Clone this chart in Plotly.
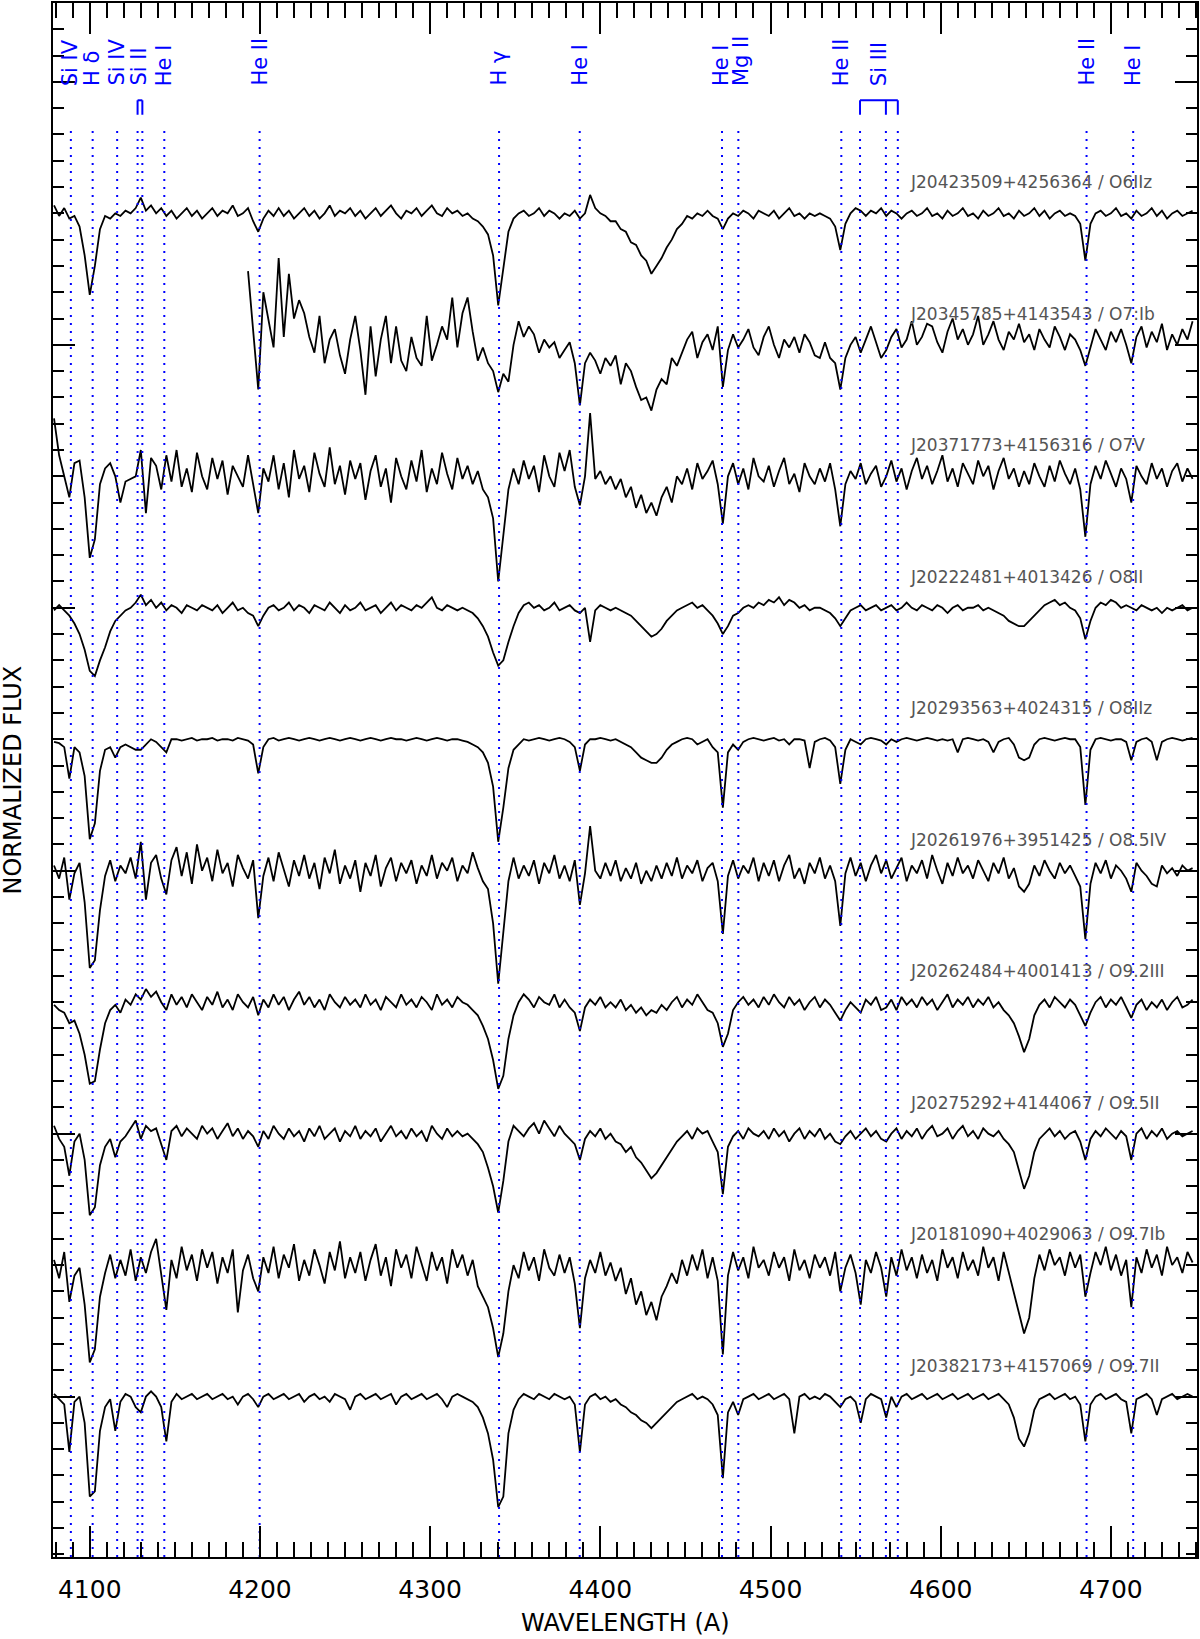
import plotly.graph_objects as go

# ---------------- data ----------------
wavelength = list(range(4079, 4749, 3))  # sampling grid (A), 224 points

star_ids = ["J20423509+4256364", "J20345785+4143543", "J20371773+4156316",
            "J20222481+4013426", "J20293563+4024315", "J20261976+3951425",
            "J20262484+4001413", "J20275292+4144067", "J20181090+4029063",
            "J20382173+4157069"]
sp_types = ["O6IIz", "O7:Ib", "O7V", "O8II", "O8IIz", "O8.5IV",
            "O9.2III", "O9.5II", "O9.7Ib", "O9.7II"]
shifts = [4.5, 4.0, 3.5, 3.0, 2.5, 2.0, 1.5, 1.0, 0.5, 0.0]  # vertical shift added to flux

flux_1 = [1.03, 0.99, 1.02, 0.98, 0.99, 0.95, 0.84, 0.69, 0.80, 0.94,
          0.99, 0.98, 1.00, 0.99, 1.01, 1.00, 1.02, 1.06, 1.01, 1.03,
          1.00, 1.02, 0.99, 1.01, 0.98, 1.00, 1.02, 0.99, 1.01, 0.98,
          1.00, 1.02, 0.99, 1.01, 1.00, 1.03, 0.99, 1.00, 1.02, 0.97,
          0.93, 0.98, 1.01, 0.99, 1.02, 0.99, 1.01, 0.98, 1.00, 1.02,
          0.99, 1.01, 0.98, 1.00, 1.03, 0.99, 1.01, 1.00, 1.02, 0.99,
          1.01, 0.98, 1.00, 1.02, 0.99, 1.01, 1.03, 1.00, 0.98, 1.01,
          1.00, 1.02, 0.99, 1.01, 1.03, 1.00, 0.99, 1.02, 1.00, 1.01,
          0.99, 1.00, 0.98, 0.97, 0.95, 0.92, 0.84, 0.65, 0.80, 0.93,
          0.98, 1.00, 1.01, 0.99, 1.00, 1.02, 0.99, 1.01, 1.00, 0.98,
          1.00, 0.99, 1.01, 0.98, 1.00, 1.07, 1.02, 1.00, 0.99, 0.97,
          0.97, 0.94, 0.93, 0.89, 0.88, 0.84, 0.82, 0.77, 0.80, 0.83,
          0.87, 0.90, 0.94, 0.96, 0.99, 0.98, 1.00, 0.99, 1.01, 0.99,
          0.98, 0.94, 0.98, 1.00, 0.99, 1.01, 1.00, 0.98, 1.01, 1.00,
          0.99, 1.01, 0.98, 1.00, 1.02, 0.99, 1.00, 0.98, 1.00, 0.99,
          1.00, 0.99, 0.98, 0.95, 0.86, 0.96, 1.00, 1.02, 1.01, 0.99,
          1.01, 1.00, 1.02, 0.99, 1.01, 1.00, 0.98, 1.00, 1.01, 0.99,
          1.00, 1.02, 0.99, 1.00, 0.98, 1.01, 0.99, 1.00, 1.02, 0.99,
          1.00, 0.98, 1.01, 0.99, 1.00, 1.02, 0.99, 1.00, 0.98, 1.01,
          0.99, 1.00, 1.02, 0.99, 1.01, 0.98, 1.00, 1.01, 0.99, 1.00,
          0.99, 0.96, 0.82, 0.96, 1.00, 1.01, 0.99, 1.00, 1.02, 0.99,
          1.00, 0.98, 1.01, 0.99, 1.00, 1.02, 0.99, 1.01, 0.98, 1.00,
          1.01, 0.99, 1.00, 1.01]

flux_2 = [None, None, None, None, None, None, None, None, None, None,
          None, None, None, None, None, None, None, None, None, None,
          None, None, None, None, None, None, None, None, None, None,
          None, None, None, None, None, None, None, None, 1.28, 1.06,
          0.83, 1.20, 1.10, 0.99, 1.33, 1.03, 1.27, 1.10, 1.17, 1.12,
          1.03, 0.97, 1.11, 0.93, 1.02, 1.06, 0.96, 0.89, 1.02, 1.11,
          0.98, 0.81, 1.07, 0.88, 1.02, 1.11, 0.93, 1.07, 0.94, 0.90,
          1.03, 0.95, 0.92, 1.11, 0.94, 1.00, 1.07, 1.02, 1.18, 0.99,
          1.12, 1.18, 1.05, 0.94, 0.99, 0.93, 0.90, 0.82, 0.89, 0.86,
          1.00, 1.09, 1.03, 1.07, 1.04, 0.97, 1.02, 0.99, 1.01, 0.95,
          0.98, 1.01, 0.93, 0.77, 0.93, 0.97, 0.94, 0.89, 0.95, 0.92,
          0.96, 0.85, 0.93, 0.90, 0.84, 0.79, 0.80, 0.75, 0.83, 0.87,
          0.85, 0.95, 0.92, 0.97, 1.02, 1.05, 0.95, 1.01, 1.04, 0.98,
          1.07, 0.84, 0.98, 1.04, 0.99, 1.02, 1.06, 0.99, 0.96, 1.03,
          1.07, 1.00, 0.95, 1.02, 0.99, 1.03, 0.97, 1.04, 1.01, 0.96,
          0.95, 1.01, 0.95, 0.93, 0.83, 0.95, 1.00, 1.03, 0.97, 1.02,
          1.07, 1.01, 0.95, 0.98, 1.03, 1.06, 0.99, 1.02, 1.09, 1.00,
          1.03, 1.08, 1.07, 1.01, 0.97, 1.05, 1.10, 1.02, 1.06, 1.00,
          1.04, 1.11, 1.00, 1.04, 1.09, 1.02, 0.98, 1.05, 1.02, 1.08,
          1.01, 1.04, 0.98, 1.06, 1.02, 0.99, 1.07, 1.03, 0.98, 1.04,
          1.02, 0.98, 0.92, 0.99, 1.06, 1.02, 0.98, 1.05, 1.01, 1.06,
          1.00, 0.93, 1.03, 1.07, 0.99, 1.05, 1.01, 1.08, 0.98, 1.04,
          1.00, 1.06, 1.02, 1.09]

flux_3 = [1.22, 1.08, 1.00, 0.92, 1.05, 1.06, 0.92, 0.69, 0.76, 0.97,
          1.03, 1.05, 1.00, 0.90, 0.98, 0.99, 1.00, 1.10, 0.86, 1.07,
          1.04, 0.95, 1.08, 0.98, 1.10, 0.96, 1.03, 0.94, 1.09, 1.00,
          0.95, 1.07, 0.99, 1.06, 0.93, 1.04, 1.00, 0.96, 1.08, 0.97,
          0.86, 1.03, 0.98, 1.08, 0.95, 1.05, 0.92, 1.10, 0.99, 1.04,
          0.94, 1.09, 1.01, 0.96, 1.11, 0.97, 1.04, 0.93, 1.06, 0.99,
          1.05, 0.91, 1.02, 1.08, 0.96, 1.03, 0.90, 1.07, 1.00, 0.95,
          1.06, 0.98, 1.10, 0.94, 1.03, 0.97, 1.09, 1.01, 0.95, 1.07,
          0.99, 1.04, 0.97, 1.02, 0.95, 0.92, 0.84, 0.60, 0.78, 0.95,
          1.03, 0.97, 1.06, 0.99, 1.04, 0.94, 1.08, 1.00, 0.96, 1.09,
          1.02, 1.10, 0.96, 0.89, 1.00, 1.24, 0.99, 1.02, 0.97, 1.00,
          0.95, 0.99, 0.92, 0.96, 0.88, 0.93, 0.86, 0.90, 0.85, 0.92,
          0.96, 0.90, 1.00, 0.97, 1.03, 0.95, 1.05, 0.99, 1.02, 1.06,
          0.97, 0.82, 1.00, 1.05, 0.97, 1.03, 0.95, 1.07, 1.00, 0.98,
          1.04, 0.96, 1.02, 1.07, 0.97, 1.01, 0.94, 1.05, 1.00, 0.97,
          1.03, 0.98, 1.05, 0.95, 0.81, 0.97, 1.02, 0.99, 1.05, 0.97,
          1.01, 1.04, 0.96, 1.00, 1.06, 0.98, 1.03, 0.95, 1.02, 1.07,
          0.99, 1.04, 0.97, 1.02, 1.08, 0.98, 1.03, 0.96, 1.05, 1.01,
          0.97, 1.06, 1.00, 1.04, 0.95, 1.02, 1.07, 0.99, 1.03, 0.96,
          1.02, 0.97, 1.05, 1.00, 0.96, 1.04, 0.98, 1.06, 1.01, 0.97,
          1.03, 0.95, 0.77, 0.97, 1.04, 0.99, 1.06, 1.01, 0.96, 1.03,
          0.99, 0.90, 1.04, 1.00, 0.97, 1.05, 0.99, 1.03, 0.96, 1.02,
          1.05, 0.98, 1.03, 0.99]

flux_4 = [0.99, 1.01, 0.99, 0.97, 0.94, 0.90, 0.84, 0.76, 0.74, 0.80,
          0.85, 0.91, 0.95, 0.97, 0.99, 1.00, 1.02, 1.05, 1.01, 1.03,
          1.00, 1.02, 0.99, 1.01, 1.00, 0.98, 1.01, 1.00, 0.99, 1.01,
          1.00, 0.99, 1.01, 0.98, 1.00, 1.02, 0.99, 1.00, 0.98, 0.97,
          0.93, 0.97, 1.00, 1.01, 0.99, 1.00, 1.02, 0.99, 1.01, 1.00,
          0.98, 1.01, 1.00, 0.99, 1.02, 1.00, 0.98, 1.01, 0.99, 1.00,
          1.02, 0.99, 1.00, 1.01, 0.98, 1.00, 1.02, 0.99, 1.01, 1.00,
          0.99, 1.01, 1.00, 1.02, 1.04, 1.00, 0.99, 1.01, 1.00, 0.99,
          1.00, 0.99, 0.98, 0.96, 0.93, 0.89, 0.83, 0.78, 0.80, 0.87,
          0.93, 0.98, 1.01, 1.02, 1.00, 1.01, 0.99, 1.00, 1.02, 0.99,
          1.00, 1.01, 0.99, 0.98, 1.00, 0.87, 0.99, 1.01, 1.00, 0.99,
          1.00, 0.99, 0.98, 0.97, 0.95, 0.93, 0.91, 0.89, 0.90, 0.92,
          0.95, 0.97, 0.99, 1.00, 1.01, 1.02, 1.00, 1.01, 0.99, 0.97,
          0.94, 0.90, 0.93, 0.97, 0.98, 1.00, 1.01, 1.00, 1.02, 1.01,
          1.03, 1.02, 1.04, 1.01, 1.03, 1.02, 1.00, 1.01, 0.99, 1.00,
          1.00, 0.99, 0.98, 0.96, 0.93, 0.96, 0.99, 1.00, 1.01, 0.99,
          1.00, 1.01, 0.99, 1.00, 1.01, 0.99, 1.00, 1.02, 1.00, 0.99,
          1.01, 1.00, 0.99, 1.01, 1.00, 0.98, 1.00, 1.01, 0.99, 1.00,
          1.00, 1.01, 0.99, 1.00, 0.99, 0.98, 0.97, 0.95, 0.94, 0.93,
          0.93, 0.95, 0.97, 0.99, 1.01, 1.02, 1.03, 1.01, 1.02, 1.00,
          0.99, 0.96, 0.88, 0.95, 1.00, 1.02, 1.01, 1.03, 1.02, 1.00,
          1.01, 1.00, 0.99, 1.01, 1.00, 0.99, 1.00, 0.98, 1.00, 0.99,
          1.00, 1.01, 0.99, 1.00]

flux_5 = [0.99, 0.985, 0.97, 0.85, 0.97, 0.95, 0.86, 0.62, 0.68, 0.88,
          0.96, 0.97, 0.93, 0.97, 0.98, 0.97, 0.96, 0.96, 0.98, 1.00,
          0.99, 0.97, 0.95, 1.00, 1.00, 0.995, 1.00, 1.005, 0.995, 1.00,
          1.00, 1.005, 0.995, 1.00, 1.00, 0.995, 1.005, 1.00, 0.995, 0.98,
          0.87, 0.97, 1.00, 1.005, 0.995, 1.00, 1.005, 1.00, 0.995, 1.00,
          1.005, 1.00, 0.995, 1.00, 1.005, 1.00, 0.995, 1.00, 1.005, 1.00,
          0.995, 1.00, 1.005, 1.00, 0.995, 1.00, 1.005, 1.00, 1.00, 0.995,
          1.00, 1.005, 1.00, 0.995, 1.00, 1.005, 1.00, 0.995, 1.00, 1.00,
          0.995, 0.99, 0.98, 0.97, 0.95, 0.91, 0.82, 0.61, 0.74, 0.89,
          0.96, 0.98, 1.00, 0.995, 1.00, 1.005, 1.00, 0.995, 1.00, 1.005,
          1.00, 0.99, 0.97, 0.88, 0.98, 1.00, 1.00, 1.005, 1.00, 0.995,
          1.00, 0.99, 0.98, 0.97, 0.95, 0.93, 0.92, 0.91, 0.91, 0.93,
          0.96, 0.98, 0.99, 1.00, 1.005, 1.00, 0.98, 0.99, 1.00, 0.97,
          0.95, 0.74, 0.95, 0.98, 0.96, 0.99, 1.00, 1.005, 1.00, 0.995,
          1.00, 1.005, 0.995, 1.00, 0.98, 1.00, 1.00, 0.995, 0.89, 0.99,
          1.00, 1.005, 0.995, 0.97, 0.83, 0.96, 1.00, 0.99, 0.98, 1.00,
          1.005, 1.00, 0.995, 0.98, 1.00, 0.99, 1.00, 1.005, 1.00, 0.995,
          1.00, 1.005, 1.00, 0.995, 1.00, 0.995, 1.00, 0.95, 1.00, 1.005,
          1.00, 0.995, 1.00, 0.99, 0.95, 0.99, 1.00, 1.005, 0.98, 0.93,
          0.92, 0.93, 0.98, 1.00, 1.005, 1.00, 0.995, 1.00, 1.005, 1.00,
          1.00, 0.97, 0.75, 0.96, 1.00, 1.005, 1.00, 0.995, 1.00, 1.00,
          0.99, 0.92, 0.99, 1.00, 1.005, 0.99, 0.92, 0.99, 1.00, 1.005,
          1.00, 0.995, 1.00, 1.005]

flux_6 = [1.02, 0.97, 1.05, 0.89, 0.99, 1.03, 0.88, 0.63, 0.66, 0.85,
          0.98, 1.04, 0.96, 1.02, 0.99, 1.05, 0.97, 1.11, 0.89, 1.03,
          1.06, 0.97, 0.91, 1.04, 1.09, 0.98, 1.07, 0.95, 1.10, 1.00,
          1.05, 0.96, 1.08, 0.99, 1.03, 0.94, 1.06, 1.01, 0.97, 1.04,
          0.82, 0.98, 1.05, 0.96, 1.07, 1.00, 0.94, 1.04, 0.98, 1.06,
          0.97, 1.03, 0.93, 1.05, 0.99, 1.08, 0.95, 1.02, 0.97, 1.04,
          0.92, 1.03, 0.98, 1.06, 0.94, 1.01, 1.05, 0.96, 1.03, 0.99,
          1.04, 0.95, 1.02, 0.98, 1.06, 0.97, 1.03, 1.00, 1.05, 0.96,
          1.02, 0.99, 1.07, 1.01, 0.96, 0.93, 0.80, 0.57, 0.76, 0.96,
          1.05, 0.97, 1.02, 0.98, 1.04, 0.95, 1.03, 0.99, 1.06, 0.97,
          1.02, 0.96, 1.04, 0.87, 0.99, 1.17, 1.00, 0.97, 1.03, 0.98,
          1.04, 0.96, 1.01, 0.97, 1.03, 0.95, 1.00, 0.96, 1.02, 0.97,
          1.03, 0.98, 1.05, 0.97, 1.02, 0.99, 1.04, 0.96, 1.01, 1.03,
          0.96, 0.76, 0.98, 1.04, 0.97, 1.02, 0.99, 1.05, 0.96, 1.03,
          0.98, 1.04, 0.96, 1.02, 1.06, 0.97, 1.01, 0.95, 1.03, 0.99,
          1.05, 0.97, 1.02, 0.96, 0.79, 0.99, 1.05, 0.98, 1.03, 0.96,
          1.02, 1.06, 0.99, 1.04, 0.97, 1.01, 1.05, 0.96, 1.02, 0.99,
          1.04, 0.97, 1.06, 1.00, 0.95, 1.03, 0.98, 1.05, 0.99, 1.02,
          0.97, 1.04, 1.00, 0.96, 1.03, 0.99, 1.05, 0.97, 1.01, 0.94,
          0.92, 0.95, 1.02, 0.98, 1.04, 1.00, 0.97, 1.03, 0.99, 1.02,
          0.98, 0.94, 0.74, 0.95, 1.03, 0.99, 1.04, 0.97, 1.02, 1.00,
          0.97, 0.92, 1.03, 1.00, 0.98, 0.95, 0.94, 1.02, 0.99, 1.01,
          0.98, 1.02, 1.00, 1.01]

flux_7 = [0.99, 0.97, 0.96, 0.92, 0.93, 0.88, 0.80, 0.69, 0.70, 0.82,
          0.92, 0.97, 0.99, 0.96, 1.01, 0.99, 1.03, 1.01, 1.05, 1.02,
          1.04, 1.00, 0.97, 1.03, 0.99, 1.02, 0.98, 1.03, 1.00, 0.97,
          1.02, 0.99, 1.04, 0.98, 1.01, 0.97, 1.03, 1.00, 0.98, 1.02,
          0.95, 1.01, 0.98, 1.03, 0.99, 1.02, 0.97, 1.01, 1.04, 0.99,
          1.02, 0.98, 1.01, 0.97, 1.03, 1.00, 0.98, 1.02, 0.99, 1.01,
          0.98, 1.03, 0.99, 1.01, 0.97, 1.02, 1.00, 0.98, 1.03, 0.99,
          1.01, 0.98, 1.02, 1.00, 0.97, 1.03, 0.99, 1.01, 0.98, 1.02,
          1.00, 0.99, 0.97, 0.95, 0.91, 0.86, 0.78, 0.67, 0.72, 0.86,
          0.95, 1.00, 1.03, 1.01, 0.98, 1.02, 1.00, 0.99, 1.03, 0.98,
          1.01, 0.98, 0.96, 0.89, 0.98, 1.01, 0.99, 1.02, 0.98, 1.00,
          0.98, 1.01, 0.97, 0.99, 0.96, 0.98, 0.95, 0.97, 0.96, 0.99,
          0.97, 1.00, 1.02, 0.98, 1.01, 0.99, 1.03, 1.00, 0.97, 0.96,
          0.92, 0.83, 0.88, 0.97, 1.00, 1.02, 0.99, 1.01, 0.98, 1.02,
          0.99, 1.03, 1.00, 0.98, 1.02, 0.99, 1.01, 0.97, 1.00, 1.02,
          0.98, 1.01, 0.99, 0.96, 0.93, 0.97, 1.00, 0.98, 0.96, 1.01,
          0.99, 1.02, 0.97, 0.98, 1.01, 0.97, 1.02, 0.99, 1.01, 0.98,
          1.02, 0.99, 1.01, 0.97, 1.00, 1.03, 0.98, 1.01, 0.99, 1.02,
          0.98, 1.01, 0.99, 1.02, 0.98, 1.00, 0.97, 0.95, 0.92, 0.87,
          0.81, 0.86, 0.95, 0.99, 1.01, 0.98, 1.02, 1.00, 0.98, 1.01,
          0.99, 0.95, 0.91, 0.96, 1.00, 1.02, 0.98, 1.01, 0.99, 1.02,
          0.98, 0.94, 0.99, 1.01, 0.97, 1.00, 0.98, 1.01, 0.97, 1.00,
          1.02, 0.98, 0.99, 1.01]

flux_8 = [1.03, 0.98, 0.95, 0.84, 0.97, 1.00, 0.90, 0.69, 0.72, 0.88,
          0.95, 0.98, 0.91, 0.97, 0.99, 1.02, 1.05, 0.98, 1.03, 1.01,
          1.02, 0.96, 0.90, 1.01, 1.03, 0.99, 1.02, 1.00, 0.98, 1.03,
          1.00, 1.02, 0.98, 1.01, 1.04, 0.99, 1.02, 0.98, 1.01, 0.99,
          0.95, 1.01, 0.98, 1.03, 1.00, 0.98, 1.02, 0.99, 1.01, 0.97,
          1.02, 0.99, 1.03, 0.98, 1.00, 1.02, 0.97, 1.01, 0.99, 1.03,
          0.98, 1.01, 0.99, 1.02, 0.97, 1.00, 1.03, 0.99, 1.01, 0.98,
          1.02, 0.99, 1.01, 0.97, 1.03, 1.00, 0.98, 1.02, 0.99, 1.01,
          0.99, 1.00, 0.98, 0.96, 0.93, 0.87, 0.80, 0.70, 0.82, 0.97,
          1.03, 1.01, 0.99, 1.02, 1.04, 1.00, 1.05, 1.02, 0.99, 1.03,
          1.00, 0.98, 0.96, 0.90, 0.98, 1.01, 0.99, 1.02, 0.98, 1.00,
          0.97, 0.96, 0.93, 0.95, 0.91, 0.89, 0.86, 0.83, 0.85, 0.88,
          0.91, 0.94, 0.97, 0.99, 1.01, 0.98, 1.02, 1.00, 1.01, 0.97,
          0.93, 0.77, 0.95, 0.99, 1.01, 0.98, 1.02, 1.00, 0.99, 1.01,
          0.98, 1.02, 0.99, 1.01, 0.97, 1.00, 1.02, 0.98, 1.01, 0.99,
          1.02, 0.98, 1.00, 0.97, 0.96, 0.99, 1.01, 0.98, 1.00, 1.02,
          0.99, 1.01, 0.98, 0.97, 1.00, 1.02, 0.98, 1.01, 0.99, 1.02,
          0.98, 1.01, 1.03, 0.99, 1.00, 1.02, 0.98, 1.01, 1.03, 0.99,
          1.01, 0.98, 1.02, 1.00, 0.99, 1.01, 0.98, 0.96, 0.93, 0.86,
          0.79, 0.84, 0.93, 0.98, 1.00, 1.02, 0.99, 1.01, 0.98, 1.00,
          1.01, 0.97, 0.90, 0.98, 1.01, 0.99, 1.02, 1.00, 0.98, 1.01,
          0.99, 0.90, 1.00, 1.02, 0.98, 1.01, 0.99, 1.02, 0.98, 1.00,
          1.01, 0.99, 1.00, 1.01]

flux_9 = [1.02, 0.95, 1.05, 0.86, 0.96, 0.99, 0.85, 0.63, 0.68, 0.88,
          0.97, 1.04, 0.95, 1.02, 0.96, 1.06, 0.94, 1.03, 0.97, 1.05,
          1.10, 0.96, 0.83, 1.02, 0.95, 1.07, 0.98, 1.04, 0.94, 1.06,
          0.99, 1.05, 0.93, 1.03, 0.97, 1.06, 0.82, 0.98, 1.04, 0.95,
          0.90, 1.03, 0.97, 1.07, 0.95, 1.04, 0.99, 1.08, 0.94, 1.02,
          0.96, 1.06, 1.00, 0.93, 1.05, 0.98, 1.09, 0.95, 1.03, 0.97,
          1.05, 0.94, 1.02, 1.08, 0.96, 1.03, 0.92, 1.06, 0.99, 1.04,
          0.95, 1.07, 1.00, 0.94, 1.05, 0.98, 1.03, 0.93, 1.06, 0.99,
          1.04, 0.96, 1.02, 0.92, 0.88, 0.84, 0.76, 0.65, 0.74, 0.90,
          1.00, 0.95, 1.05, 0.98, 1.03, 0.94, 1.06, 0.99, 0.96, 1.04,
          0.97, 1.03, 0.93, 0.76, 0.95, 1.02, 0.97, 1.05, 0.96, 1.01,
          0.94, 0.99, 0.89, 0.95, 0.85, 0.90, 0.81, 0.86, 0.79, 0.88,
          0.92, 0.97, 0.93, 1.02, 0.96, 1.04, 0.98, 1.06, 0.95, 1.03,
          0.94, 0.66, 0.96, 1.05, 0.98, 1.03, 0.95, 1.07, 0.99, 1.02,
          0.96, 1.05, 0.99, 1.03, 0.94, 1.06, 0.98, 1.02, 0.95, 1.04,
          0.99, 1.03, 0.96, 1.05, 0.90, 0.99, 1.04, 0.97, 0.85, 1.02,
          0.97, 1.05, 0.99, 0.88, 1.03, 0.96, 1.06, 0.98, 1.03, 0.95,
          1.04, 0.97, 1.02, 0.94, 1.06, 0.99, 1.03, 0.95, 1.05, 0.98,
          1.02, 0.96, 1.07, 0.99, 1.03, 0.94, 1.05, 0.97, 0.90, 0.82,
          0.74, 0.80, 0.95, 1.04, 0.98, 1.06, 1.00, 1.03, 0.96, 1.05,
          0.99, 1.04, 0.88, 0.97, 1.05, 1.00, 1.07, 0.98, 1.04, 0.96,
          1.02, 0.84, 1.03, 0.97, 1.06, 0.99, 1.04, 0.96, 1.07, 1.00,
          1.03, 0.97, 1.05, 1.01]

flux_10 = [1.01, 0.99, 0.97, 0.79, 0.98, 1.00, 0.90, 0.62, 0.64, 0.87,
           0.96, 0.99, 0.87, 0.98, 1.01, 1.00, 0.96, 0.94, 1.00, 1.02,
           1.00, 0.96, 0.83, 0.98, 1.01, 0.99, 1.00, 1.01, 0.99, 1.00,
           1.01, 0.99, 1.00, 1.01, 0.99, 1.00, 0.97, 1.00, 1.01, 0.99,
           0.96, 1.00, 1.01, 0.99, 1.00, 1.01, 0.99, 1.00, 1.01, 0.98,
           1.00, 1.01, 0.99, 1.00, 0.98, 1.01, 1.00, 0.99, 0.95, 1.00,
           1.01, 0.99, 1.00, 1.01, 0.99, 1.00, 1.01, 0.97, 1.00, 1.01,
           0.99, 1.00, 1.01, 0.99, 1.00, 1.01, 0.99, 0.96, 1.00, 1.01,
           1.00, 0.99, 0.98, 0.96, 0.92, 0.86, 0.76, 0.58, 0.62, 0.86,
           0.95, 0.99, 1.01, 1.00, 0.99, 1.01, 1.00, 0.99, 1.01, 1.00,
           0.99, 1.00, 0.97, 0.79, 0.97, 1.00, 1.01, 0.99, 1.00, 0.98,
           0.99, 0.97, 0.96, 0.94, 0.93, 0.91, 0.90, 0.88, 0.90, 0.92,
           0.94, 0.96, 0.98, 0.99, 1.00, 1.01, 0.99, 1.00, 0.99, 0.97,
           0.93, 0.69, 0.94, 0.98, 0.93, 0.99, 1.00, 1.01, 0.99, 1.00,
           1.01, 0.99, 1.00, 1.01, 0.99, 0.86, 1.00, 1.01, 0.99, 1.00,
           0.99, 1.01, 1.00, 0.98, 0.96, 0.99, 1.00, 0.98, 0.90, 0.99,
           1.01, 1.00, 0.99, 0.92, 1.00, 0.96, 1.00, 1.01, 0.99, 1.00,
           1.01, 0.99, 1.00, 1.01, 0.99, 1.00, 1.01, 0.99, 1.00, 1.01,
           0.99, 1.00, 1.01, 0.99, 1.00, 1.01, 0.99, 0.97, 0.92, 0.84,
           0.81, 0.86, 0.95, 0.99, 1.00, 1.01, 0.99, 1.00, 1.01, 0.99,
           1.00, 0.97, 0.83, 0.97, 1.00, 1.01, 0.99, 1.00, 1.01, 0.99,
           0.98, 0.86, 0.99, 1.00, 1.01, 0.99, 0.93, 0.99, 1.00, 1.01,
           0.99, 1.00, 1.01, 1.00]

fluxes = [flux_1, flux_2, flux_3, flux_4, flux_5,
          flux_6, flux_7, flux_8, flux_9, flux_10]

# line identifications
line_waves = [4088.9, 4101.7, 4116.1, 4128.1, 4130.9, 4143.8, 4199.8, 4340.5,
              4387.9, 4471.5, 4481.1, 4541.6, 4552.6, 4567.8, 4574.8,
              4685.7, 4713.1]
label_texts = ["Si IV", "H δ", "Si IV", "Si II", "He I", "He II", "H γ", "He I",
               "He I", "Mg II", "He II", "Si III", "He II", "He I"]
label_waves = [4088.9, 4101.7, 4116.1, 4128.7, 4143.8, 4199.8, 4340.5, 4387.9,
               4471.0, 4483.0, 4541.6, 4563.9, 4685.7, 4713.1]
si2_group = [4128.1, 4130.9]
si3_group = [4552.6, 4567.8, 4574.8]

# ---------------- figure ----------------
FONT = "DejaVu Sans"
YMIN, YMAX = 0.39, 6.30
XMIN, XMAX = 4078.4, 4750.6
DOT_TOP = 5.821
LABEL_Y = 5.977
BRACKET_TOP = 5.93
BRACKET_BOT = 5.875

fig = go.Figure()

for flux, sh in zip(fluxes, shifts):
    y = [None if f is None else f + sh for f in flux]
    fig.add_trace(go.Scatter(x=wavelength, y=y, mode="lines",
                             line=dict(color="black", width=1.8),
                             connectgaps=False, hoverinfo="skip",
                             showlegend=False))

for w in line_waves:
    fig.add_trace(go.Scatter(x=[w, w], y=[YMIN, DOT_TOP], mode="lines",
                             line=dict(color="#0000ff", width=2, dash="2px,6px"),
                             hoverinfo="skip", showlegend=False))

# brackets for multiplets
for grp in (si2_group, si3_group):
    fig.add_shape(type="line", xref="x", yref="y", x0=grp[0], x1=grp[-1],
                  y0=BRACKET_TOP, y1=BRACKET_TOP,
                  line=dict(color="#0000ff", width=2))
    for w in grp:
        fig.add_shape(type="line", xref="x", yref="y", x0=w, x1=w,
                      y0=BRACKET_TOP, y1=BRACKET_BOT,
                      line=dict(color="#0000ff", width=2))

annotations = []
for txt, w in zip(label_texts, label_waves):
    annotations.append(dict(x=w, y=LABEL_Y, xref="x", yref="y", text=txt,
                            textangle=-90, showarrow=False,
                            xanchor="center", yanchor="bottom",
                            font=dict(family=FONT, size=21, color="#0000ff")))

for sid, spt, sh in zip(star_ids, sp_types, shifts):
    annotations.append(dict(x=4581, y=sh + 1.118, xref="x", yref="y",
                            text=f"{sid} / {spt}", showarrow=False,
                            xanchor="left", yanchor="middle",
                            font=dict(family=FONT, size=17, color="#555555")))

annotations.append(dict(x=0.5, y=-0.0424, xref="paper", yref="paper",
                        text="WAVELENGTH (A)", showarrow=False,
                        xanchor="center", yanchor="middle",
                        font=dict(family=FONT, size=24, color="black")))
annotations.append(dict(x=-0.0354, y=0.5, xref="paper", yref="paper",
                        text="NORMALIZED FLUX", textangle=-90, showarrow=False,
                        xanchor="center", yanchor="middle",
                        font=dict(family=FONT, size=24, color="black")))

fig.update_layout(
    width=1200, height=1639,
    margin=dict(l=53, r=2, t=1, b=82),
    paper_bgcolor="white", plot_bgcolor="white",
    font=dict(family=FONT, color="black"),
    annotations=annotations,
    showlegend=False,
    xaxis=dict(range=[XMIN, XMAX], showgrid=False, zeroline=False,
               showline=True, linecolor="black", linewidth=2, mirror="ticks",
               ticks="inside", ticklen=31, tickwidth=2, tickcolor="black",
               tick0=4000, dtick=100, tickfont=dict(family=FONT, size=25),
               ticklabelstandoff=9,
               minor=dict(ticks="inside", dtick=10, tick0=4000, ticklen=15,
                          tickwidth=2, tickcolor="black", showgrid=False)),
    yaxis=dict(range=[YMIN, YMAX], showgrid=False, zeroline=False,
               showline=True, linecolor="black", linewidth=2, mirror="ticks",
               ticks="inside", ticklen=22, tickwidth=2, tickcolor="black",
               tick0=0, dtick=1, showticklabels=False,
               minor=dict(ticks="inside", dtick=0.1, tick0=0, ticklen=11,
                          tickwidth=2, tickcolor="black", showgrid=False)),
)

fig.write_html("out.html", config={"displayModeBar": False},
               post_script="document.body.style.margin='0px';"
                           "document.body.style.overflow='hidden';")
